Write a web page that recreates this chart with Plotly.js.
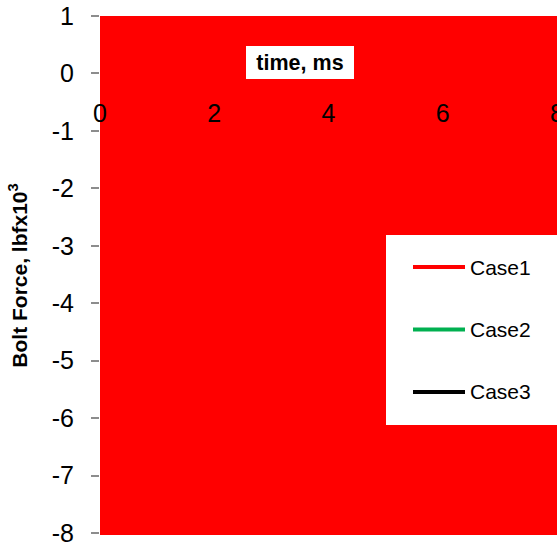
<!DOCTYPE html>
<html>
<head>
<meta charset="utf-8">
<script src="https://cdn.plot.ly/plotly-3.0.1.min.js"></script>
<style>html,body{margin:0;padding:0;background:#fff;}#chart{width:557px;height:544px;}</style>
</head>
<body>
<div id="chart"></div>
<script>
// Series (no individual curves are distinguishable in the reference: the plot area is solid red)
const seriesNames = ["Case1", "Case2", "Case3"];
const seriesColors = ["#ff0000", "#00b050", "#000000"];
const timeMs = [];          // x values (ms)
const case1 = [];           // bolt force, lbf x10^3
const case2 = [];
const case3 = [];
const seriesValues = [case1, case2, case3];

const xTickVals = [0, 2, 4, 6, 8];
const yTickVals = [-8, -7, -6, -5, -4, -3, -2, -1, 0, 1];

const FONT = "Arial, 'Liberation Sans', sans-serif";

const traces = seriesNames.map((n, i) => ({
  type: "scatter", mode: "lines", name: n,
  x: timeMs, y: seriesValues[i],
  line: {color: seriesColors[i], width: 4},
  showlegend: false
}));

// custom legend (white box, long line samples)
const W = 557, H = 544, ML = 100, MR = 0, MT = 16, MB = 9;
const pw = W - ML - MR, ph = H - MT - MB;
const px = v => (v - ML) / pw;
const py = v => (H - MB - v) / ph;
const Y0 = -8.035, Y1 = 1;

const shapes = [{
  type: "rect", xref: "paper", yref: "paper", layer: "above",
  x0: px(386), x1: px(620), y0: py(425), y1: py(235),
  fillcolor: "#ffffff", line: {width: 0}
}];
const annotations = [{
  xref: "paper", yref: "paper", x: px(300), y: py(46.5),
  text: "<b>time, ms</b>", showarrow: false, bgcolor: "#ffffff",
  font: {family: FONT, size: 21.5, color: "#000"},
  width: 104, height: 29, borderpad: 2, borderwidth: 0
}];
seriesNames.forEach((n, i) => {
  const yy = 267 + i * 62.5;
  shapes.push({
    type: "line", xref: "paper", yref: "paper", layer: "above",
    x0: px(413), x1: px(465), y0: py(yy), y1: py(yy),
    line: {color: seriesColors[i], width: 4}
  });
  annotations.push({
    xref: "paper", yref: "paper", x: px(468), y: py(yy),
    xanchor: "left", yanchor: "middle", text: n, showarrow: false,
    font: {family: FONT, size: 21, color: "#000"}
  });
});

const layout = {
  width: W, height: H,
  margin: {l: ML, r: MR, t: MT, b: MB, pad: 0},
  paper_bgcolor: "#ffffff",
  plot_bgcolor: "#ff0000",
  font: {family: FONT, size: 20, color: "#000"},
  showlegend: false,
  xaxis: {
    range: [0, 8], tickvals: xTickVals, ticktext: xTickVals.map(String),
    anchor: "free", position: (0 - Y0) / (Y1 - Y0),
    showgrid: false, zeroline: false, showline: false,
    ticks: "", ticklabelstandoff: 23, ticklabeloverflow: "allow",
    tickfont: {family: FONT, size: 25, color: "#000"}
  },
  yaxis: {
    range: [Y0, Y1], tickvals: yTickVals, ticktext: yTickVals.map(String),
    showgrid: false, zeroline: false, showline: false,
    ticks: "outside", ticklen: 8, tickwidth: 2, tickcolor: "#8c8c8c",
    ticklabelstandoff: 12, ticklabeloverflow: "allow",
    tickfont: {family: FONT, size: 25, color: "#000"},
    title: {text: "<b>Bolt Force, lbfx10<sup>3</sup></b>", standoff: 18,
            font: {family: FONT, size: 21, color: "#000"}}
  },
  shapes: shapes,
  annotations: annotations
};

Plotly.newPlot("chart", traces, layout, {staticPlot: true, displayModeBar: false});
</script>
</body>
</html>
